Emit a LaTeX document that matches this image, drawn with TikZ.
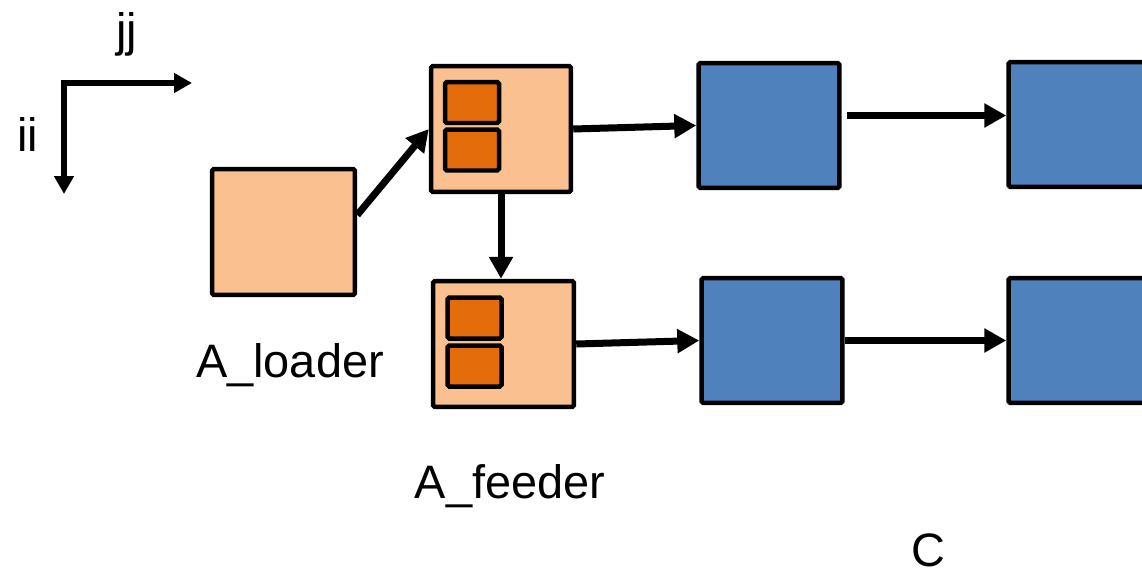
\documentclass[tikz,border=0pt]{standalone}
\usepackage{fontspec}
\setmainfont{Liberation Sans}
\usetikzlibrary{arrows.meta}

\definecolor{loadfill}{HTML}{FAC090}
\definecolor{slotfill}{HTML}{E46C0A}
\definecolor{cfill}{HTML}{4F81BD}

\begin{document}
\begin{tikzpicture}[x=0.02cm, y=-0.02cm,
		font=\fontsize{26.7}{32}\selectfont,
		tile/.style={draw=black, line width=0.09cm, rounded corners=1pt, inner sep=0pt},
		loadbox/.style={tile, fill=loadfill, minimum width=2.86cm, minimum height=2.52cm},
		slot/.style={tile, fill=slotfill, minimum width=1.08cm, minimum height=0.82cm},
		cbox/.style={tile, fill=cfill, minimum width=2.82cm, minimum height=2.5cm},
		flow/.style={line width=0.14cm, -{Triangle[length=0.44cm, width=0.46cm]}},
		axis/.style={line width=0.11cm, line join=miter, {Triangle[length=0.36cm, width=0.38cm]}-{Triangle[length=0.36cm, width=0.38cm]}}]
		
		% ==========================================
		% FRAME
		% ==========================================
		\useasboundingbox (0,0) rectangle (1142,575);
		
		% ==========================================
		% INDEX DIRECTIONS
		% ==========================================
		\coordinate (origin) at (64,83);
		\coordinate (jtip) at (192,83);
		\coordinate (itip) at (64,194);
		\draw[axis] (jtip) -- (origin) -- (itip);
		\node[anchor=base] (jlabel) at (127,46) {jj};
		\node[anchor=base] (ilabel) at (28,151) {ii};
		
		% ==========================================
		% LOADER AND FEEDERS
		% ==========================================
		\node[loadbox] (loader) at (283.5,232) {};
		\node[loadbox, minimum width=2.8cm] (feederA) at (501,129) {};
		\node[loadbox, minimum width=2.82cm] (feederB) at (503.5,344) {};
		
		% double buffers inside the feeders
		\node[slot] (slotA1) at (472,102.5) {};
		\node[slot] (slotA2) at (472,150) {};
		\node[slot] (slotB1) at (474.5,318) {};
		\node[slot] (slotB2) at (474.5,366) {};
		
		\node[anchor=base] (loadlabel) at (290,377) {A\_loader};
		\node[anchor=base] (feedlabel) at (510,498) {A\_feeder};
		
		% ==========================================
		% C BLOCKS
		% ==========================================
		\node[cbox] (c11) at (769,125.5) {};
		\node[cbox] (c12) at (1079,124.5) {};
		\node[cbox] (c21) at (772,340.5) {};
		\node[cbox] (c22) at (1079,340.5) {};
		\node[anchor=base, text depth=0pt, inner sep=0pt] (clabel) at (928,566) {C};
		
		% ==========================================
		% DATA FLOW
		% ==========================================
		\draw[flow] ([yshift=0.34cm]loader.east) -- (feederA.west);
		\draw[flow] (feederA.south) -- (feederA.south |- feederB.north);
		\draw[flow] (feederA.east) -- (c11.west);
		\draw[flow] ([shift={(0.1cm,0.2cm)}]c11.east) -- ([yshift=0.2cm]c11.east -| c12.west);
		\draw[flow] (feederB.east) -- (c21.west);
		\draw[flow] (c21.east) -- (c22.west);
		
	\end{tikzpicture}
\end{document}
